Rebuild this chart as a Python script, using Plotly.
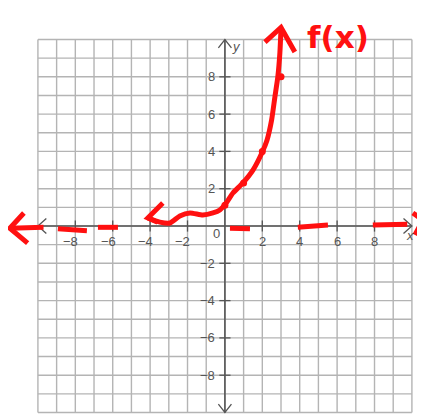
import plotly.graph_objects as go

# ---------------- data ----------------
grid_vals = list(range(-10, 11))
tick_vals = [-8, -6, -4, -2, 2, 4, 6, 8]
tick_labels = ["−8", "−6", "−4", "−2", "2", "4", "6", "8"]

# hand-drawn exponential curve
curve_x = [-4.12, -3.48, -2.94, -2.41, -1.87, -1.18, -0.64, -0.27, 0.11, 0.43, 0.96, 1.5, 2.0, 2.25, 2.5, 2.67, 2.83, 2.94, 3.0]
curve_y = [0.43, 0.21, 0.16, 0.54, 0.70, 0.59, 0.70, 0.86, 1.29, 1.77, 2.31, 3.0, 3.97, 4.6, 5.7, 6.9, 8.0, 9.3, 10.6]
point_x = [0, 1, 2, 3]
point_y = [1.12, 2.3, 4.0, 8.0]

# top arrow head of curve
top_head_x = [2.14, 3.0, 3.74]
top_head_y = [9.86, 10.65, 9.33]
# left arrow head of curve
left_head_x = [-3.32, -4.12, -3.6]
left_head_y = [1.23, 0.43, 0.2]

# dashed asymptote segments (hand drawn)
asym_x = [-11.5, -9.7, None, -8.93, -7.38, None, -6.79, -5.72, None,
          0.27, 1.34, None, 3.9, 5.51, None, 7.91, 9.75]
asym_y = [-0.12, -0.07, None, -0.15, -0.25, None, -0.07, -0.07, None,
          -0.12, -0.15, None, -0.07, 0.05, None, 0.05, 0.1]
asym_left_head_x = [-10.75, -11.5, -10.55]
asym_left_head_y = [0.70, -0.12, -0.92]
asym_right_head_x = [10.05, 10.59, 10.16]
asym_right_head_y = [0.70, 0.32, -0.48]

fig = go.Figure()

# grid lines
gx, gy = [], []
for v in grid_vals:
    gx += [v, v, None]
    gy += [-10, 10, None]
    gx += [-10, 10, None]
    gy += [v, v, None]
fig.add_trace(go.Scatter(x=gx, y=gy, mode="lines",
                         line=dict(color="#b4b4b4", width=1.4), hoverinfo="skip"))

# axes lines
fig.add_trace(go.Scatter(x=[-10, 10, None, 0, 0], y=[0, 0, None, -10, 10], mode="lines",
                         line=dict(color="#555555", width=1.6), hoverinfo="skip"))
# axis arrow heads
ax_x = [-9.55, -10, -9.55, None, 9.55, 10, 9.55, None, -0.35, 0, 0.35, None, -0.35, 0, 0.35]
ax_y = [0.4, 0, -0.4, None, 0.4, 0, -0.4, None, 9.55, 10, 9.55, None, -9.55, -10, -9.55]
fig.add_trace(go.Scatter(x=ax_x, y=ax_y, mode="lines",
                         line=dict(color="#555555", width=1.3), hoverinfo="skip"))
# tick marks
tx, ty = [], []
for v in tick_vals:
    tx += [v, v, None, -0.3, 0.3, None]
    ty += [-0.3, 0.3, None, v, v, None]
fig.add_trace(go.Scatter(x=tx, y=ty, mode="lines",
                         line=dict(color="#555555", width=1.3), hoverinfo="skip"))

red = "#ff1010"
lw = 5
# asymptote dashes
fig.add_trace(go.Scatter(x=asym_x, y=asym_y, mode="lines",
                         line=dict(color=red, width=lw), hoverinfo="skip"))
fig.add_trace(go.Scatter(x=asym_left_head_x, y=asym_left_head_y, mode="lines",
                         line=dict(color=red, width=lw), hoverinfo="skip"))
fig.add_trace(go.Scatter(x=asym_right_head_x, y=asym_right_head_y, mode="lines",
                         line=dict(color=red, width=lw), hoverinfo="skip"))
# curve
fig.add_trace(go.Scatter(x=curve_x, y=curve_y, mode="lines",
                         line=dict(color=red, width=lw, shape="spline", smoothing=0.6),
                         hoverinfo="skip"))
fig.add_trace(go.Scatter(x=point_x, y=point_y, mode="markers",
                         marker=dict(color=red, size=7), hoverinfo="skip"))
fig.add_trace(go.Scatter(x=top_head_x, y=top_head_y, mode="lines",
                         line=dict(color=red, width=lw), hoverinfo="skip"))
fig.add_trace(go.Scatter(x=left_head_x, y=left_head_y, mode="lines",
                         line=dict(color=red, width=lw), hoverinfo="skip"))

annotations = []
font = dict(family="Liberation Sans, Arial", size=13, color="#555555")
for v, lab in zip(tick_vals, tick_labels):
    xoff = -0.25 if v < 0 else 0
    annotations.append(dict(x=v + xoff, y=-0.85, text=lab, showarrow=False,
                            xanchor="center", yanchor="middle", font=font))
    annotations.append(dict(x=-0.45, y=v, text=lab, showarrow=False,
                            xanchor="right", yanchor="middle", font=font))
annotations.append(dict(x=-0.45, y=-0.4, text="0", showarrow=False,
                        xanchor="center", yanchor="middle", font=font))
annotations.append(dict(x=9.9, y=-0.5, text="<i>x</i>", showarrow=False,
                        xanchor="center", yanchor="middle", font=font))
annotations.append(dict(x=0.6, y=9.6, text="<i>y</i>", showarrow=False,
                        xanchor="center", yanchor="middle", font=font))
annotations.append(dict(x=6.05, y=10.15, text="<b>f(x)</b>", showarrow=False,
                        xanchor="center", yanchor="middle",
                        font=dict(family="DejaVu Sans", size=31, color=red)))

# page body has an 8px margin, so the figure is sized/offset to fit the window
fig.update_layout(
    width=417, height=406,
    margin=dict(l=0, r=0, t=0, b=0),
    paper_bgcolor="white", plot_bgcolor="white",
    showlegend=False,
    annotations=annotations,
    xaxis=dict(range=[-11.60, 10.70], visible=False, fixedrange=True),
    yaxis=dict(range=[-10.08, 11.69], visible=False, fixedrange=True),
)

fig.write_html("out.html", config={"displayModeBar": False})
